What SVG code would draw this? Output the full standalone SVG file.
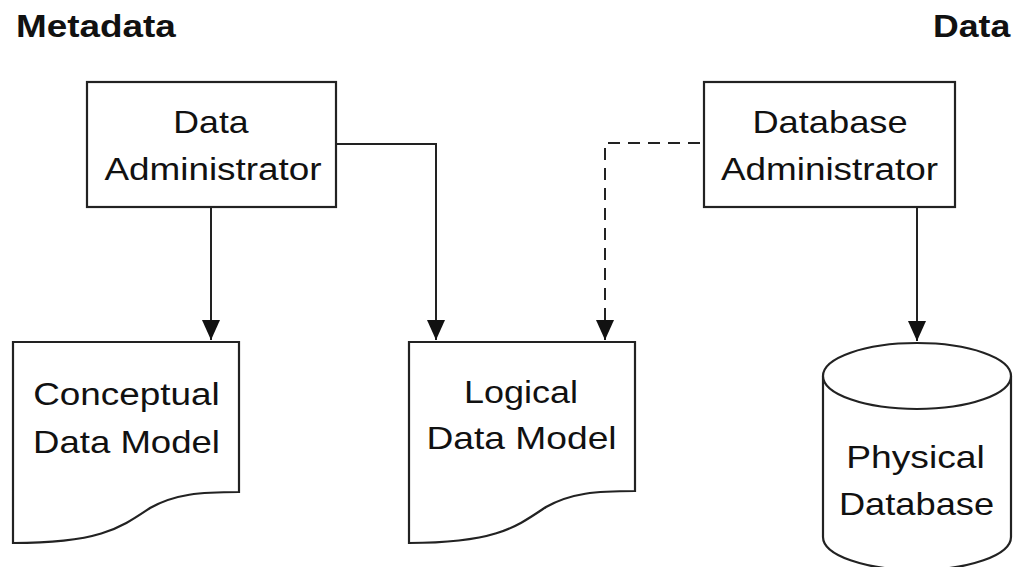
<svg xmlns="http://www.w3.org/2000/svg" width="1015" height="567" viewBox="0 0 1015 567">
<style>
.shape{fill:#fff;stroke:#222;stroke-width:2.2}
.conn{fill:none;stroke:#222;stroke-width:2}
.dash{stroke-dasharray:12 8}
.t{font-family:"Liberation Sans",Arial,sans-serif;font-size:31px;fill:#111;text-anchor:middle}
.h{font-family:"Liberation Sans",Arial,sans-serif;font-size:31px;font-weight:bold;fill:#111}
</style>
<defs>
<marker id="arr" markerUnits="userSpaceOnUse" markerWidth="22" markerHeight="18" refX="20" refY="9" orient="auto">
<path d="M0,0 L20,9 L0,18 Z" fill="#111"/>
</marker>
</defs>
<rect width="1015" height="567" fill="#fff"/>
<text class="h" transform="translate(16 37) scale(1.19 1)">Metadata</text>
<text class="h" transform="translate(933 37) scale(1.15 1)">Data</text>
<g id="connectors">
<path class="conn" d="M211,207 V340" marker-end="url(#arr)"/>
<path class="conn" d="M336,144 H436 V340" marker-end="url(#arr)"/>
<path class="conn dash" d="M700,143 H605 V340" marker-end="url(#arr)"/>
<path class="conn" d="M917,207 V341" marker-end="url(#arr)"/>
</g>
<g id="data-administrator">
<rect class="shape" x="87" y="82" width="249" height="125"/>
<text class="t" transform="translate(211 133) scale(1.15 1)">Data</text>
<text class="t" transform="translate(213 180) scale(1.19 1)">Administrator</text>
</g>
<g id="database-administrator">
<rect class="shape" x="704" y="82" width="251" height="125"/>
<text class="t" transform="translate(830 133) scale(1.17 1)">Database</text>
<text class="t" transform="translate(829.5 180) scale(1.19 1)">Administrator</text>
</g>
<g id="conceptual-data-model">
<path class="shape" d="M13,342 H239 V492 C200,492 175,494 150,508 C120,528 100,543 13,543 Z"/>
<text class="t" transform="translate(126.5 405) scale(1.19 1)">Conceptual</text>
<text class="t" transform="translate(126.5 453) scale(1.18 1)">Data Model</text>
</g>
<g id="logical-data-model">
<path class="shape" d="M409,342 H635 V491 C596,491 571,493 546,507 C516,527 496,543 409,543 Z"/>
<text class="t" transform="translate(521 403) scale(1.16 1)">Logical</text>
<text class="t" transform="translate(521.5 449) scale(1.2 1)">Data Model</text>
</g>
<g id="physical-database">
<path class="shape" d="M823,376 V537 A94,33 0 0 0 1011,537 V376"/>
<ellipse class="shape" cx="917" cy="376" rx="94" ry="33"/>
<text class="t" transform="translate(915.5 468) scale(1.2 1)">Physical</text>
<text class="t" transform="translate(916.5 515) scale(1.17 1)">Database</text>
</g>
</svg>
